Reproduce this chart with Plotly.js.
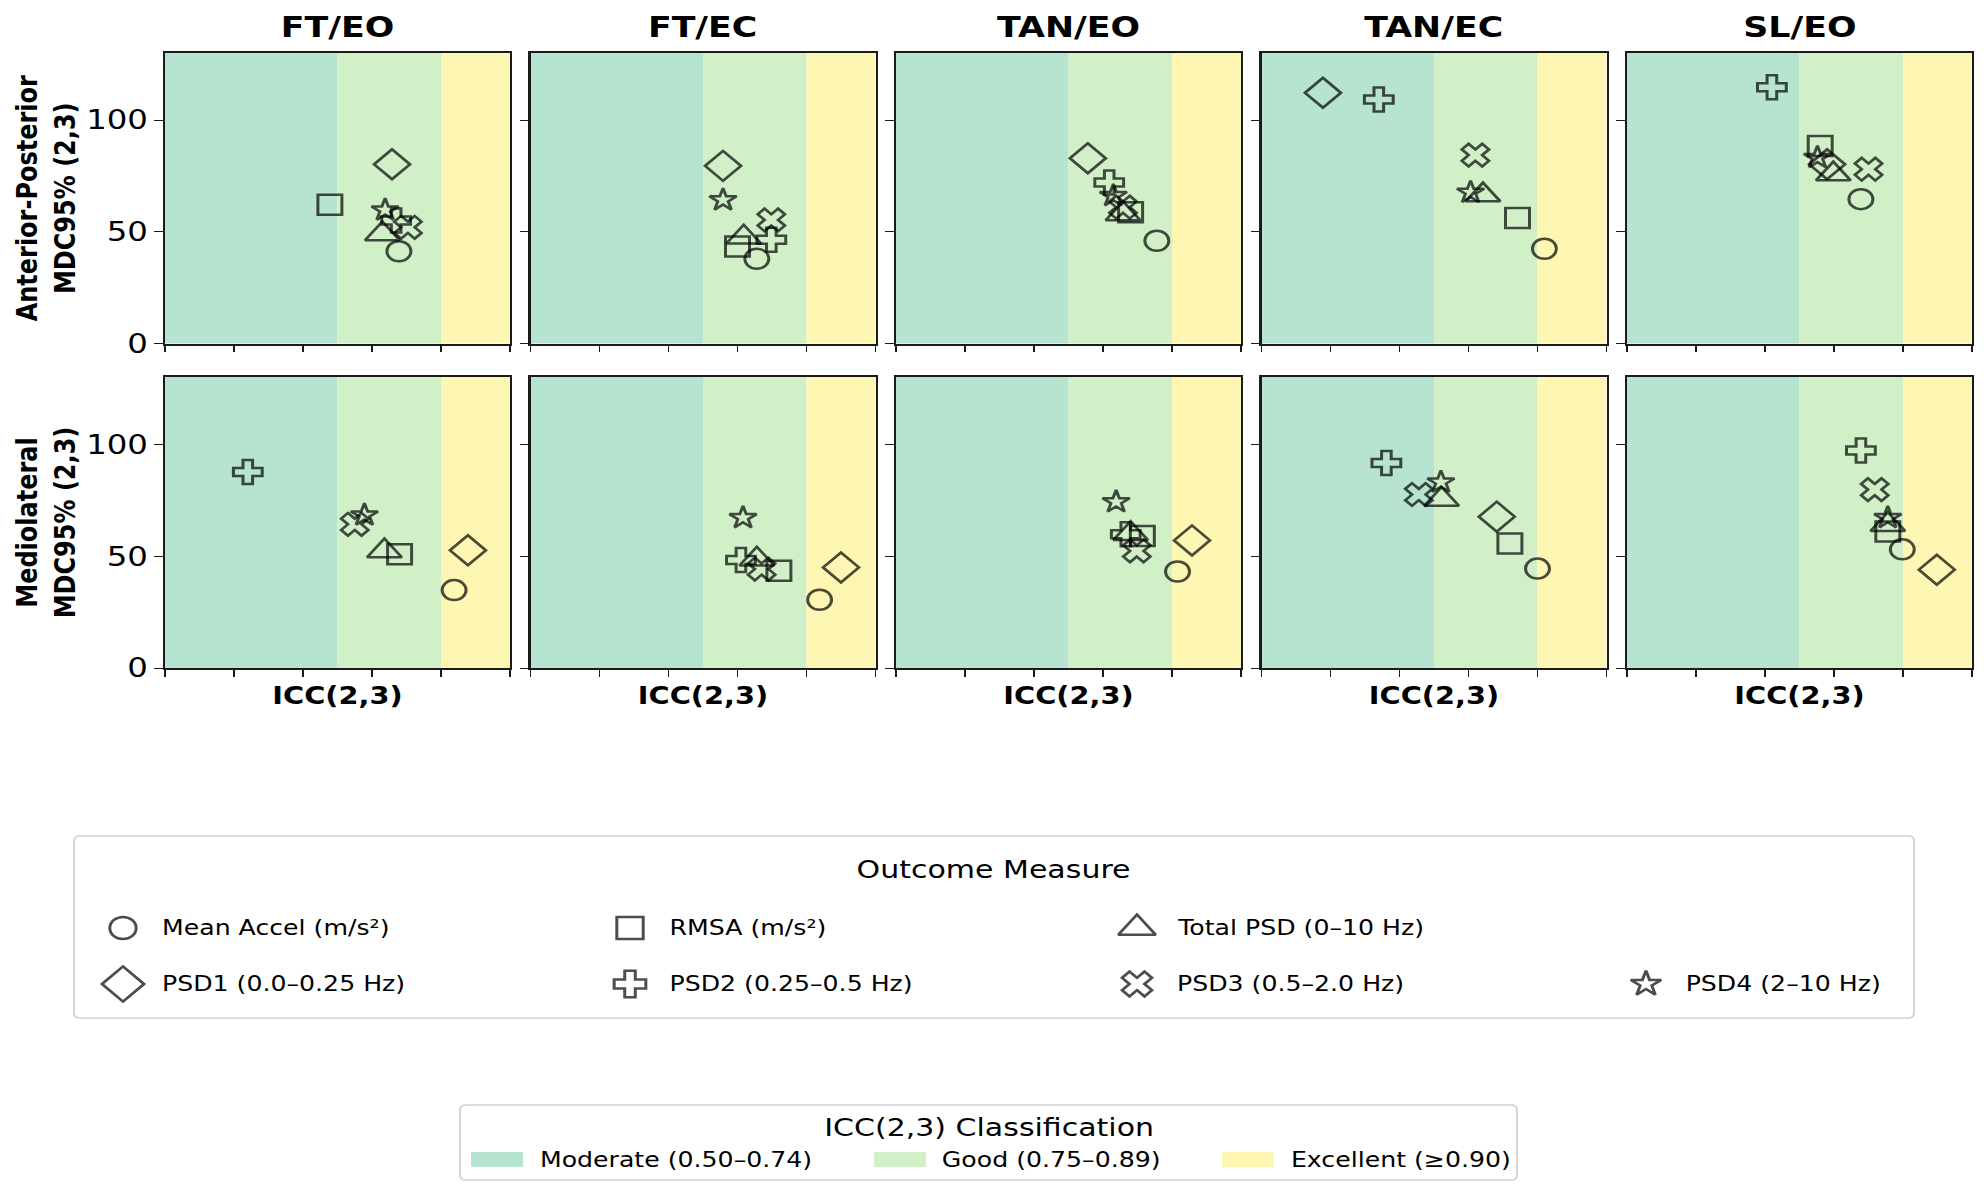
<!DOCTYPE html>
<html>
<head>
<meta charset="utf-8">
<script src="https://cdn.plot.ly/plotly-3.0.1.min.js"></script>
<style>
  html, body { margin: 0; padding: 0; background: #fff; overflow: hidden; width: 1988px; height: 1197px; }
  #plot { width: 1657px; height: 1197px; transform: scaleX(1.19976); transform-origin: 0 0; }
</style>
</head>
<body>
<div id="plot"></div>
<script>
// ---------------- data ----------------
const conditions = ['FT/EO', 'FT/EC', 'TAN/EO', 'TAN/EC', 'SL/EO'];
const directions = ['Anterior-Posterior', 'Mediolateral'];
const measures = ['Mean Accel (m/s²)', 'RMSA (m/s²)', 'Total PSD (0–10 Hz)',
                  'PSD1 (0.0–0.25 Hz)', 'PSD2 (0.25–0.5 Hz)', 'PSD3 (0.5–2.0 Hz)', 'PSD4 (2–10 Hz)'];
const bandNames = ['Moderate (0.50–0.74)', 'Good (0.75–0.89)', 'Excellent (≥0.90)'];
const bandEdges = [0.5, 0.75, 0.9, 1.0];
const xTickVals = [0.5, 0.6, 0.7, 0.8, 0.9, 1.0];
const yTickVals = [0, 50, 100];

// ICC(2,3) and MDC95% per measure (rows) and condition (columns)
const apICC = [
  [0.839, 0.828, 0.878, 0.910, 0.839],
  [0.739, 0.800, 0.840, 0.871, 0.780],
  [0.815, 0.809, 0.829, 0.821, 0.799],
  [0.829, 0.779, 0.778, 0.589, 0.790],
  [0.835, 0.849, 0.809, 0.670, 0.710],
  [0.852, 0.849, 0.829, 0.810, 0.850],
  [0.819, 0.779, 0.815, 0.803, 0.776]
];
const apMDC = [
  [41.3, 37.9, 46.0, 42.4, 64.6],
  [62.1, 43.4, 58.7, 56.2, 88.4],
  [49.0, 47.5, 58.0, 66.4, 75.8],
  [80.2, 79.5, 82.9, 112.2, 80.2],
  [55.0, 46.4, 72.0, 109.2, 114.7],
  [52.0, 55.3, 61.0, 84.3, 78.0],
  [59.7, 64.2, 66.1, 67.6, 83.2]
];
const mlICC = [
  [0.919, 0.919, 0.908, 0.900, 0.899],
  [0.840, 0.860, 0.857, 0.860, 0.878],
  [0.818, 0.828, 0.840, 0.761, 0.878],
  [0.939, 0.950, 0.929, 0.841, 0.949],
  [0.620, 0.805, 0.833, 0.681, 0.839],
  [0.775, 0.835, 0.849, 0.728, 0.859],
  [0.789, 0.808, 0.819, 0.760, 0.878]
];
const mlMDC = [
  [34.8, 30.5, 43.1, 44.4, 53.0],
  [50.8, 43.4, 59.0, 55.6, 61.0],
  [52.3, 48.6, 60.0, 75.3, 64.0],
  [52.6, 44.9, 57.0, 67.6, 43.9],
  [87.6, 48.2, 59.7, 91.6, 97.2],
  [64.2, 44.2, 52.3, 77.5, 79.7],
  [68.3, 67.1, 74.2, 83.0, 67.1]
];

// ---------------- styles / layout constants ----------------
const symbols = ['circle-open', 'square-open', 'triangle-up-open', 'diamond-open', 'cross-open', 'x-open', 'star-open'];
const markerSizes = [20, 20, 25, 23, 20, 20, 17];
const legendSizes = [22, 22, 27, 27, 22, 22, 19];
const bandColors = ['#b6e4d0', '#d1f0c8', '#fef7b3'];
const FW = 1988, FH = 1197;           // final picture size
const FONT = 'DejaVu Sans';
const colStart = [165, 530.5, 896, 1261.5, 1627], colWidth = 345;
const rowTop = [53, 377], rowBottom = [343.5, 668];
const px = v => v / FW, py = v => 1 - v / FH;

const ICC = [apICC, mlICC], MDC = [apMDC, mlMDC];

const data = [], layout = {
  width: 1657, height: FH,
  margin: {l: 0, r: 0, t: 0, b: 0},
  paper_bgcolor: '#ffffff', plot_bgcolor: 'rgba(0,0,0,0)',
  showlegend: false,
  font: {family: FONT, color: '#000'},
  shapes: [], annotations: []
};

// legend frames (drawn first, below everything)
function roundRect(x0, y0, x1, y1, rr) {
  const X = v => px(v).toFixed(5), Y = v => py(v).toFixed(5);
  const rx = rr / 1.2;
  return `M${X(x0 + rr)},${Y(y0)} L${X(x1 - rr)},${Y(y0)} Q${X(x1)},${Y(y0)} ${X(x1)},${Y(y0 + rx)} ` +
         `L${X(x1)},${Y(y1 - rx)} Q${X(x1)},${Y(y1)} ${X(x1 - rr)},${Y(y1)} L${X(x0 + rr)},${Y(y1)} ` +
         `Q${X(x0)},${Y(y1)} ${X(x0)},${Y(y1 - rx)} L${X(x0)},${Y(y0 + rx)} Q${X(x0)},${Y(y0)} ${X(x0 + rr)},${Y(y0)} Z`;
}
layout.shapes.push({type: 'path', xref: 'paper', yref: 'paper', path: roundRect(74, 836, 1914, 1018, 6),
  line: {color: '#d2d2d2', width: 1.6}, fillcolor: 'rgba(0,0,0,0)', layer: 'below'});
layout.shapes.push({type: 'path', xref: 'paper', yref: 'paper', path: roundRect(460, 1105, 1517, 1180, 6),
  line: {color: '#d2d2d2', width: 1.6}, fillcolor: 'rgba(0,0,0,0)', layer: 'below'});

for (let r = 0; r < 2; r++) {
  for (let c = 0; c < 5; c++) {
    const n = r * 5 + c + 1;
    const xk = 'xaxis' + n, yk = 'yaxis' + n;
    layout[xk] = {
      domain: [px(colStart[c]), px(colStart[c] + colWidth)],
      range: [0.5, 1.0], anchor: 'y' + n,
      showgrid: false, zeroline: false,
      showline: true, mirror: true, linecolor: '#1a1a1a', linewidth: 1.6,
      ticks: 'outside', ticklen: 7, tickwidth: 1.4, tickcolor: '#1a1a1a',
      tickvals: xTickVals, showticklabels: false, fixedrange: true
    };
    if (r === 1) {
      layout[xk].title = {text: 'ICC(2,3)', font: {family: FONT, size: 24, weight: 'bold', color: '#000'}, standoff: 11};
    }
    layout[yk] = {
      domain: [py(rowBottom[r]), py(rowTop[r])],
      range: [0, 130], anchor: 'x' + n,
      showgrid: false, zeroline: false,
      showline: true, mirror: true, linecolor: '#1a1a1a', linewidth: 1.6,
      ticks: 'outside', ticklen: 7, tickwidth: 1.4, tickcolor: '#1a1a1a',
      tickvals: yTickVals, ticktext: yTickVals.map(String),
      showticklabels: c === 0, tickfont: {family: FONT, size: 27, color: '#000'},
      fixedrange: true
    };
    if (c === 0) {
      layout[yk].title = {text: directions[r] + '<br>MDC95% (2,3)', font: {family: FONT, size: 24, weight: 'bold', color: '#000'}, standoff: 2};
    }
    // reliability bands
    for (let b = 0; b < 3; b++) {
      layout.shapes.push({
        type: 'rect', xref: 'x' + n, yref: 'y' + n + ' domain',
        x0: bandEdges[b], x1: bandEdges[b + 1], y0: 0, y1: 1,
        fillcolor: bandColors[b], line: {width: 0}, layer: 'below'
      });
    }
    // points
    data.push({
      type: 'scatter', mode: 'markers', xaxis: 'x' + n, yaxis: 'y' + n,
      x: measures.map((m, i) => ICC[r][i][c]),
      y: measures.map((m, i) => MDC[r][i][c]),
      text: measures, hoverinfo: 'text+x+y', cliponaxis: false,
      marker: {symbol: symbols, size: markerSizes, color: '#000', line: {width: 2.5, color: '#000'}}
    });
    // subplot title
    if (r === 0) {
      layout.annotations.push({
        text: conditions[c], xref: 'paper', yref: 'paper',
        x: px(colStart[c] + colWidth / 2), y: py(27), xanchor: 'center', yanchor: 'middle',
        showarrow: false, font: {family: FONT, size: 29, weight: 'bold', color: '#000'}
      });
    }
  }
}

// Outcome Measure legend
layout.annotations.push({text: 'Outcome Measure', xref: 'paper', yref: 'paper', x: px(993), y: py(869),
  xanchor: 'center', yanchor: 'middle', showarrow: false, font: {family: FONT, size: 25, color: '#000'}});
const legColX = [123, 630, 1137, 1646], legRowY = [928, 984];
const legPos = measures.map((m, i) => i < 3 ? [legColX[i], legRowY[0]] : [legColX[i - 3], legRowY[1]]);
measures.forEach((m, i) => {
  layout.annotations.push({text: m, xref: 'paper', yref: 'paper', x: px(legPos[i][0] + 37), y: py(legPos[i][1]),
    xanchor: 'left', yanchor: 'middle', showarrow: false, font: {family: FONT, size: 21, color: '#000'}});
});
layout.xaxis11 = {domain: [px(60), px(1930)], range: [60, 1930], visible: false, fixedrange: true, anchor: 'y11'};
layout.yaxis11 = {domain: [py(1030), py(830)], range: [1030, 830], visible: false, fixedrange: true, anchor: 'x11'};
data.push({
  type: 'scatter', mode: 'markers', xaxis: 'x11', yaxis: 'y11',
  x: legPos.map(p => p[0]), y: legPos.map(p => p[1]), hoverinfo: 'skip', cliponaxis: false,
  marker: {symbol: symbols, size: legendSizes, color: '#000', line: {width: 2.5, color: '#000'}}
});

// ICC classification legend
layout.annotations.push({text: 'ICC(2,3) Classification', xref: 'paper', yref: 'paper', x: px(989), y: py(1127),
  xanchor: 'center', yanchor: 'middle', showarrow: false, font: {family: FONT, size: 25, color: '#000'}});
const swatchX = [471, 874, 1222], swatchW = 52;
bandNames.forEach((name, b) => {
  layout.shapes.push({type: 'rect', xref: 'paper', yref: 'paper',
    x0: px(swatchX[b]), x1: px(swatchX[b] + swatchW), y0: py(1167), y1: py(1152),
    fillcolor: bandColors[b], line: {width: 0}, layer: 'above'});
  layout.annotations.push({text: name, xref: 'paper', yref: 'paper', x: px(swatchX[b] + swatchW + 14), y: py(1160),
    xanchor: 'left', yanchor: 'middle', showarrow: false, font: {family: FONT, size: 21, color: '#000'}});
});

Plotly.newPlot('plot', data, layout, {displayModeBar: false, responsive: false});
</script>
</body>
</html>
